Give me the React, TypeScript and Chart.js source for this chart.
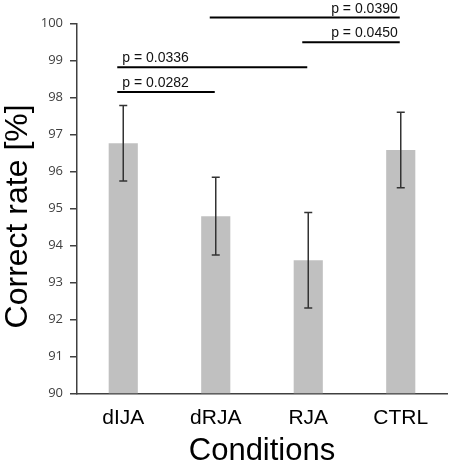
import React, { useEffect, useRef } from "react";
import { Chart, registerables } from "chart.js";

Chart.register(...registerables);

const categories = ["dIJA", "dRJA", "RJA", "CTRL"];
const meanValues = [96.76, 94.79, 93.6, 96.58];
const errorValues = [1.02, 1.05, 1.29, 1.02];
const yTicks = [90, 91, 92, 93, 94, 95, 96, 97, 98, 99, 100];

const sigFrom = [0, 0, 2, 1];
const sigTo = [1, 2, 3, 3];
const sigLevel = [98.15, 98.82, 99.49, 100.16];
const sigLabels = ["p = 0.0282", "p = 0.0336", "p = 0.0450", "p = 0.0390"];
const sigAlign = ["left", "left", "right", "right"];

const yTitle = "Correct rate [%]";
const xTitle = "Conditions";

const overlayPlugin = {
  id: "overlay",
  afterDatasetsDraw(chart: any) {
    const ctx = chart.ctx;
    const x = chart.scales.x;
    const y = chart.scales.y;
    ctx.save();
    // error bars
    ctx.strokeStyle = "#333333";
    ctx.lineWidth = 1.5;
    meanValues.forEach((m, i) => {
      const px = x.getPixelForValue(i);
      const top = y.getPixelForValue(m + errorValues[i]);
      const bot = y.getPixelForValue(m - errorValues[i]);
      ctx.beginPath();
      ctx.moveTo(px, top);
      ctx.lineTo(px, bot);
      ctx.moveTo(px - 4, top);
      ctx.lineTo(px + 4, top);
      ctx.moveTo(px - 4, bot);
      ctx.lineTo(px + 4, bot);
      ctx.stroke();
    });
    // significance lines
    ctx.strokeStyle = "#000000";
    ctx.lineWidth = 2;
    ctx.fillStyle = "#111111";
    ctx.font = "14px 'Liberation Sans', Arial, sans-serif";
    ctx.textBaseline = "alphabetic";
    sigLabels.forEach((lab, i) => {
      const x0 = x.getPixelForValue(sigFrom[i]) - 6;
      const x1 = x.getPixelForValue(sigTo[i]) - 1;
      const py = y.getPixelForValue(sigLevel[i]);
      ctx.beginPath();
      ctx.moveTo(x0, py);
      ctx.lineTo(x1, py);
      ctx.stroke();
      if (sigAlign[i] === "left") {
        ctx.textAlign = "left";
        ctx.fillText(lab, x0 + 5, py - 5);
      } else {
        ctx.textAlign = "right";
        ctx.fillText(lab, x1 - 2, py - 5);
      }
    });
    ctx.restore();
  },
  afterDraw(chart: any) {
    const ctx = chart.ctx;
    const area = chart.chartArea;
    ctx.save();
    ctx.fillStyle = "#000000";
    ctx.textBaseline = "alphabetic";
    ctx.textAlign = "center";
    ctx.font = "31px 'Liberation Sans', Arial, sans-serif";
    ctx.fillText(xTitle, (area.left + area.right) / 2, chart.height - 2);
    ctx.translate(27, (area.top + area.bottom) / 2 + 8);
    ctx.rotate(-Math.PI / 2);
    ctx.font = "32px 'Liberation Sans', Arial, sans-serif";
    ctx.fillText(yTitle, 0, 0);
    ctx.restore();
  },
};

export default function App() {
  const ref = useRef<HTMLCanvasElement>(null);
  useEffect(() => {
    if (!ref.current) return;
    const chart = new Chart(ref.current, {
      type: "bar",
      data: {
        labels: categories,
        datasets: [
          {
            data: meanValues,
            backgroundColor: "#c0c0c0",
            borderWidth: 0,
            barPercentage: 0.315,
            categoryPercentage: 1,
          },
        ],
      },
      options: {
        animation: false,
        responsive: false,
        maintainAspectRatio: false,
        layout: { padding: { top: 23.5, right: 3, left: 0, bottom: 0 } },
        plugins: {
          legend: { display: false },
          tooltip: { enabled: false },
        },
        scales: {
          x: {
            grid: { display: false },
            border: { display: true, color: "#404040", width: 1.5 },
            ticks: {
              color: "#000000",
              padding: 4,
              font: { family: "'Liberation Sans', Arial, sans-serif", size: 21 },
            },
            afterFit: (s: any) => {
              s.height = 68.7;
            },
          },
          y: {
            min: 90,
            max: 100,
            grid: {
              display: true,
              drawOnChartArea: false,
              drawTicks: true,
              tickLength: 7,
              color: "#404040",
              lineWidth: 1.5,
            },
            border: { display: true, color: "#404040", width: 1.5 },
            afterBuildTicks: (s: any) => {
              s.ticks = yTicks.map((v) => ({ value: v }));
            },
            ticks: {
              color: "#404040",
              padding: 7,
              font: { family: "'Open Sans', sans-serif", size: 13 },
            },
            afterFit: (s: any) => {
              s.width = 77;
            },
          },
        },
      },
      plugins: [overlayPlugin],
    });
    return () => chart.destroy();
  }, []);
  return (
    <div style={{ position: "absolute", left: 0, top: 0, width: 450, height: 462, background: "#ffffff" }}>
      <canvas ref={ref} width={450} height={462} style={{ width: 450, height: 462 }} />
    </div>
  );
}
